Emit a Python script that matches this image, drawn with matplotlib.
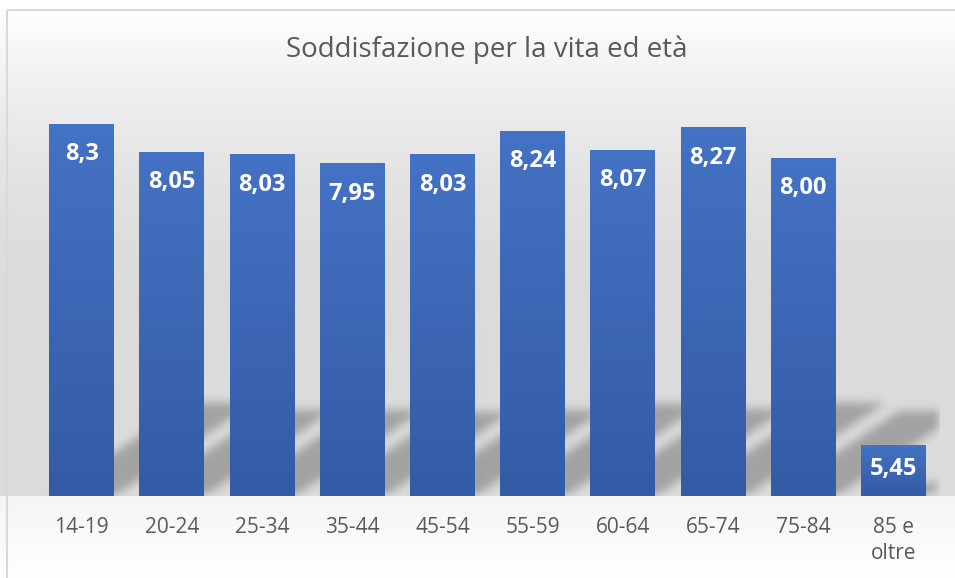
import numpy as np
import matplotlib
matplotlib.use("Agg")
import matplotlib.pyplot as plt
from matplotlib.patches import Rectangle

# data
categories = ["14-19", "20-24", "25-34", "35-44", "45-54",
              "55-59", "60-64", "65-74", "75-84", "85 e\noltre"]
values = [8.3, 8.05, 8.03, 7.95, 8.03, 8.24, 8.07, 8.27, 8.00, 5.45]
value_labels = ["8,3", "8,05", "8,03", "7,95", "8,03",
                "8,24", "8,07", "8,27", "8,00", "5,45"]
title = "Soddisfazione per la vita ed età"

W, H, DPI = 955, 578, 100
plt.rcParams["font.family"] = ["Open Sans", "DejaVu Sans"]

fig = plt.figure(figsize=(W / DPI, H / DPI), dpi=DPI)

# chart background: white -> light gray above the axis, near white below
bg_ax = fig.add_axes([0, 0, 1, 1], zorder=-10)
rows = np.arange(H)
base_px = 496
g = np.empty(H)
top = rows < base_px
t = np.clip((rows[top] - 10) / 320.0, 0, 1)
g[top] = 255 - 36 * (1 - (1 - t) ** 2)
tb = (rows[~top] - base_px) / (H - base_px)
g[~top] = 245 + 10 * tb
bg = np.repeat((g / 255.0)[:, None, None], 3, axis=2)
bg_ax.imshow(bg, aspect="auto", extent=[0, W, H, 0], interpolation="bilinear")
bg_ax.set_xlim(0, W)
bg_ax.set_ylim(H, 0)
bg_ax.axis("off")
# chart border (only top/left visible in the frame)
bg_ax.add_patch(Rectangle((7, 10), W + 10, H + 10, fill=False,
                          edgecolor="#d9d9d9", lw=1.5))

# plot area
ymin, ymax = 5, 9
ax_left, ax_w = 36.5, 902
ax_top = 45.4
ax = fig.add_axes([ax_left / W, (H - base_px) / H, ax_w / W, (base_px - ax_top) / H])
ax.set_facecolor("none")
ax.set_xlim(-0.5, len(values) - 0.5)
ax.set_ylim(ymin, ymax)
for s in ax.spines.values():
    s.set_visible(False)
ax.set_yticks([])

x = np.arange(len(values))
bw = 0.72
px_x = ax_w / len(values)
px_y = (base_px - ax_top) / (ymax - ymin)

# perspective shadows (blurred, skewed to upper right)
nx, ny = int(ax_w), int(base_px - ax_top)
xx = np.arange(nx)[None, :]
hh = np.arange(ny)[::-1][:, None]  # pixel height above baseline, row 0 = top
mask = np.zeros((ny, nx))
k = 1.5
for xi, v in zip(x, values):
    sh = 0.25 * (v - ymin) * px_y
    left = (xi - bw / 2 + 0.5) * px_x + k * hh
    right = (xi + bw / 2 + 0.5) * px_x + k * hh
    m = (xx >= left) & (xx <= right) & (hh <= sh)
    mask = np.maximum(mask, m.astype(float))


def box_blur(a, r):
    kern = np.ones(2 * r + 1) / (2 * r + 1)
    a = np.apply_along_axis(lambda c: np.convolve(c, kern, mode="same"), 0, a)
    a = np.apply_along_axis(lambda c: np.convolve(c, kern, mode="same"), 1, a)
    return a


for _ in range(3):
    mask = box_blur(mask, 4)
shadow = np.zeros((ny, nx, 4))
shadow[..., 3] = mask * 0.26
ax.imshow(shadow, extent=[-0.5, len(values) - 0.5, ymin, ymax],
          aspect="auto", zorder=1, interpolation="bilinear")

# gradient bars
top_c = np.array([68, 114, 196]) / 255
bot_c = np.array([51, 91, 166]) / 255
grad = np.linspace(0, 1, 256)[:, None]
grad_img = (top_c[None, None, :] * (1 - grad[..., None]) + bot_c[None, None, :] * grad[..., None])
bars = ax.bar(x, np.array(values) - ymin, bottom=ymin, width=bw, color="none", zorder=2)
for b in bars:
    x0, y0 = b.get_x(), b.get_y()
    ax.imshow(grad_img, extent=[x0, x0 + b.get_width(), y0, y0 + b.get_height()],
              aspect="auto", zorder=2, interpolation="bilinear")

# value labels inside the top of each bar
for xi, v, lab in zip(x, values, value_labels):
    bar_px = (v - ymin) * px_y
    off_px = min(30, bar_px * 0.46)
    ax.annotate(lab, xy=(xi, v), xytext=(0, -off_px * 72 / DPI),
                textcoords="offset points", ha="center", va="center",
                color="white", fontsize=17, fontweight="bold", zorder=3)

ax.set_xticks(x)
ax.set_xticklabels(categories, fontsize=15, color="#595959", linespacing=1.35)
ax.tick_params(axis="x", length=0, pad=15)

fig.text(487 / W, 1 - 50 / H, title, ha="center", va="center",
         fontsize=20, color="#595959")

fig.savefig("out.png", dpi=DPI)
